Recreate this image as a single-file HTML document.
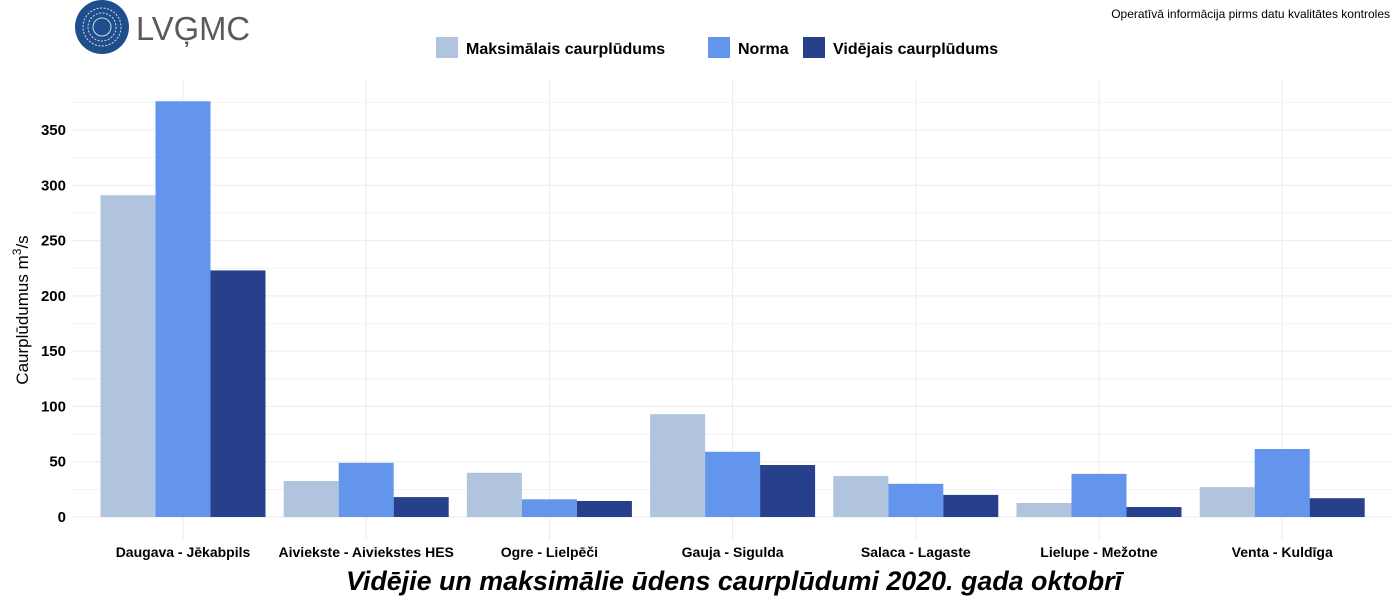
<!DOCTYPE html>
<html><head><meta charset="utf-8"><style>
body{margin:0;background:#fff;width:1400px;height:600px;overflow:hidden;font-family:"Liberation Sans",sans-serif}
</style></head><body>
<svg id="c" width="1400" height="600" xmlns="http://www.w3.org/2000/svg">
<g>
<circle cx="102" cy="27" r="27" fill="#1f4e8c"/>
<circle cx="102" cy="27" r="19" fill="none" stroke="#fff" stroke-width="1" stroke-dasharray="2 1.5" opacity="0.8"/>
<circle cx="102" cy="27" r="14" fill="none" stroke="#fff" stroke-width="1" stroke-dasharray="2 1.5" opacity="0.8"/>
<circle cx="102" cy="27" r="9" fill="none" stroke="#fff" stroke-width="1" opacity="0.8"/>
<text x="136" y="40" font-size="33" fill="#5a5a5a" textLength="114" lengthAdjust="spacingAndGlyphs" font-family="Liberation Sans, sans-serif">LVĢMC</text>
</g>
<text x="1390" y="18" text-anchor="end" font-size="12" fill="#000">Operatīvā informācija pirms datu kvalitātes kontroles</text>
<g id="legend"></g>
<g id="grid"></g><g id="bars"></g><g id="axes"></g>
<text x="734" y="590" text-anchor="middle" font-size="27" font-weight="bold" font-style="italic" textLength="776" lengthAdjust="spacingAndGlyphs">Vidējie un maksimālie ūdens caurplūdumi 2020. gada oktobrī</text>
<text transform="translate(28,310) rotate(-90)" text-anchor="middle" font-size="17">Caurplūdumus  m<tspan dy="-7" font-size="12">3</tspan><tspan dy="7">/s</tspan></text>
</svg>
<script>
const categories=["Daugava - Jēkabpils","Aiviekste - Aiviekstes HES","Ogre - Lielpēči","Gauja - Sigulda","Salaca - Lagaste","Lielupe - Mežotne","Venta - Kuldīga"];
const maxVals=[291,32.5,40,93,37,12.7,27];
const normVals=[376,49,16,59,30,39,61.5];
const avgVals=[223,18,14.5,47,20,9,17];
const yTicks=[0,50,100,150,200,250,300,350];
const seriesNames=["Maksimālais caurplūdums","Norma","Vidējais caurplūdums"];
const colors=["#b0c4de","#6495ed","#27408b"];
const NS="http://www.w3.org/2000/svg";
const y=v=>517-v*1.1057;
const x=i=>183+i*183.2;
function mk(t,a,p){const e=document.createElementNS(NS,t);for(const k in a)e.setAttribute(k,a[k]);p.appendChild(e);return e;}
const grid=document.getElementById('grid'),bars=document.getElementById('bars'),axes=document.getElementById('axes'),leg=document.getElementById('legend');
for(let v=0;v<=375;v+=25){const l=mk('line',{x1:72,x2:1392,y1:y(v),y2:y(v),stroke:'#ebebeb','stroke-width':v%50?0.6:1},grid);

}
categories.forEach((c,i)=>{const l=mk('line',{x1:x(i),x2:x(i),y1:80,y2:540,stroke:'#ebebeb'},grid);

});
yTicks.forEach(v=>{const t=mk('text',{x:66,y:y(v)+5,'text-anchor':'end','font-size':15,'font-weight':'bold'},axes);t.textContent=v;

});
const series=[maxVals,normVals,avgVals];
categories.forEach((c,i)=>{
series.forEach((s,j)=>{const r=mk('rect',{x:x(i)-82.5+j*55,y:y(s[i]),width:55,height:s[i]*1.1057,fill:colors[j]},bars);

});
const t=mk('text',{x:x(i),y:557,'text-anchor':'middle','font-size':14,'font-weight':'bold'},axes);t.textContent=c;

});
const lx=[436,708,803];
seriesNames.forEach((n,j)=>{const r=mk('rect',{x:lx[j],y:37,width:22,height:21,fill:colors[j]},leg);


const t=mk('text',{x:lx[j]+30,y:54,'font-size':16,'font-weight':'bold'},leg);t.textContent=n;

});
</script>
</body></html>
